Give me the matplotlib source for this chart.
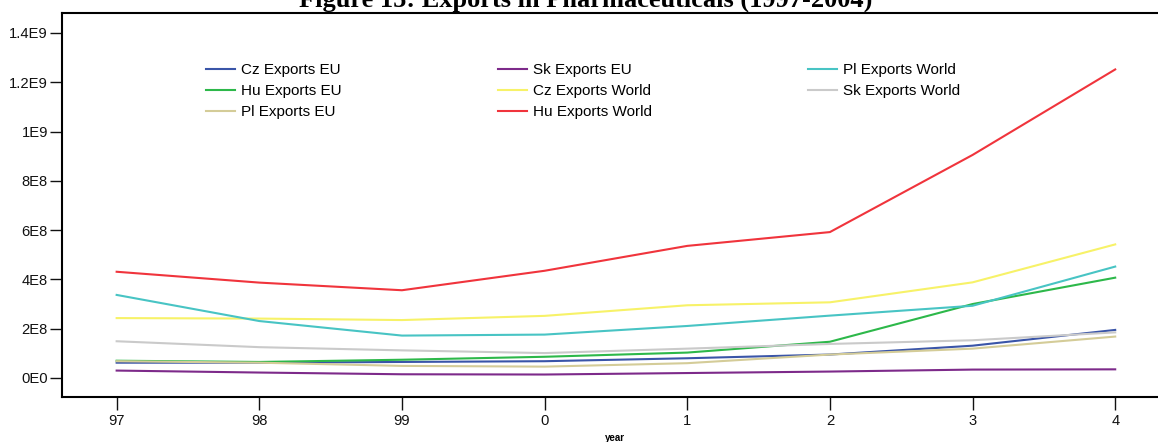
import matplotlib.pyplot as plt

years = ['97', '98', '99', '0', '1', '2', '3', '4']

cz_eu = [6.2e7, 6.2e7, 6.5e7, 6.8e7, 8.0e7, 9.5e7, 1.31e8, 1.95e8]
hu_eu = [7.0e7, 6.5e7, 7.4e7, 8.6e7, 1.03e8, 1.47e8, 3.0e8, 4.07e8]
pl_eu = [6.8e7, 6.2e7, 4.9e7, 4.6e7, 6.0e7, 9.5e7, 1.19e8, 1.68e8]
sk_eu = [3.0e7, 2.2e7, 1.5e7, 1.4e7, 2.0e7, 2.6e7, 3.4e7, 3.5e7]
cz_world = [2.43e8, 2.41e8, 2.35e8, 2.52e8, 2.95e8, 3.07e8, 3.88e8, 5.42e8]
hu_world = [4.31e8, 3.87e8, 3.56e8, 4.35e8, 5.36e8, 5.92e8, 9.05e8, 1.252e9]
pl_world = [3.37e8, 2.31e8, 1.72e8, 1.76e8, 2.11e8, 2.53e8, 2.93e8, 4.52e8]
sk_world = [1.49e8, 1.25e8, 1.12e8, 1.01e8, 1.19e8, 1.38e8, 1.53e8, 1.85e8]

yticks = [0, 2e8, 4e8, 6e8, 8e8, 1e9, 1.2e9, 1.4e9]
ytick_labels = ['0E0', '2E8', '4E8', '6E8', '8E8', '1E9', '1.2E9', '1.4E9']

plt.rcParams['font.family'] = ['Liberation Sans', 'DejaVu Sans']

fig = plt.figure(figsize=(11.58, 4.42), dpi=100)
ax = fig.add_axes([0.0533, 0.1025, 0.9467, 0.8675])

x = range(len(years))
# order matters: legend fills column by column
ax.plot(x, cz_eu, color='#3a55a8', lw=1.5, label='Cz Exports EU')
ax.plot(x, hu_eu, color='#2db84a', lw=1.5, label='Hu Exports EU')
ax.plot(x, pl_eu, color='#d4cc98', lw=1.5, label='Pl Exports EU')
ax.plot(x, sk_eu, color='#7d2a8a', lw=1.5, label='Sk Exports EU')
ax.plot(x, cz_world, color='#f7f268', lw=1.5, label='Cz Exports World')
ax.plot(x, hu_world, color='#f0343c', lw=1.5, label='Hu Exports World')
ax.plot(x, pl_world, color='#48c4c4', lw=1.5, label='Pl Exports World')
ax.plot(x, sk_world, color='#cacaca', lw=1.5, label='Sk Exports World')

ax.set_xlim(-0.385, 7.30)
ax.set_ylim(-7.6e7, 1.48e9)
ax.set_xticks(list(x))
ax.set_xticklabels(years)
ax.set_yticks(yticks)
ax.set_yticklabels(ytick_labels)
ax.tick_params(labelsize=10.6, length=9, width=1.0, colors='#111111')
ax.tick_params(axis='y', pad=1)
ax.tick_params(axis='x', pad=3.5)
ax.spines['right'].set_visible(False)
for s in ['left', 'top', 'bottom']:
    ax.spines[s].set_linewidth(1.5)

ax.set_xlabel('year', fontsize=7, fontweight='bold', va='center')
ax.xaxis.set_label_coords(0.505, -0.108)

ax.legend(ncol=3, loc='upper left', bbox_to_anchor=(0.1316, 0.869), frameon=False,
          fontsize=11, handlelength=1.9, handletextpad=0.4, columnspacing=10.2,
          labelspacing=0.45, borderpad=0, borderaxespad=0)

# title sits partly above the top edge, as in the source image
fig.text(0.506, 1 - 6.7 / 442, 'Figure 15: Exports in Pharmaceuticals (1997-2004)',
         family='Liberation Serif', fontweight='bold', fontsize=19,
         ha='center', va='baseline')

fig.savefig('out.png', dpi=100)
